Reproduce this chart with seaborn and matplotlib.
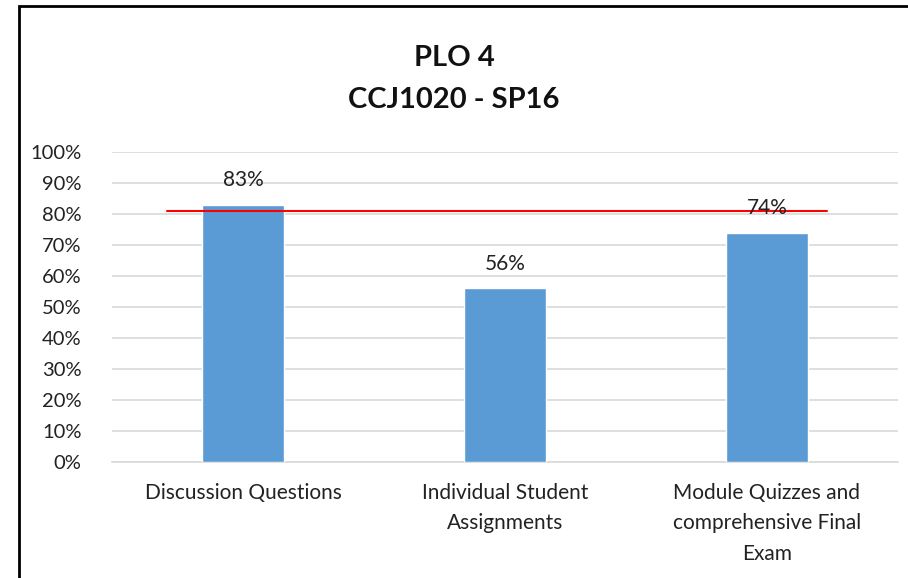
import numpy as np
import pandas as pd
import matplotlib
matplotlib.use("Agg")
import matplotlib.pyplot as plt
import seaborn as sns
from matplotlib.patches import Rectangle

# chart data
categories = ["Discussion Questions",
              "Individual Student\nAssignments",
              "Module Quizzes and\ncomprehensive Final\nExam"]
scores = [0.83, 0.56, 0.74]
target = 0.81
target_span = [-0.29, 2.23]
yticks = np.arange(0, 1.01, 0.1)

df = pd.DataFrame({"category": categories, "score": scores})

sns.set_theme(style="white")
plt.rcParams["font.family"] = ["Lato", "DejaVu Sans"]

fig = plt.figure(figsize=(9.08, 5.78), dpi=100)
ax = fig.add_axes([112 / 908, 1 - 462 / 578, 786 / 908, 310 / 578])

sns.barplot(data=df, x="category", y="score", color="#5B9BD5",
            width=0.31, saturation=1, ax=ax, zorder=3)

# target line
ax.plot(target_span, [target, target], color="#FF0000", lw=1.5, zorder=4)

for i, v in enumerate(scores):
    ax.text(i, v + 0.08, f"{v:.0%}", ha="center", va="center",
            fontsize=15, color="#222222", zorder=5)

ax.set_xlim(-0.5, 2.5)
ax.set_ylim(0, 1)
ax.set_yticks(yticks)
ax.set_yticklabels([f"{t:.0%}" for t in yticks], fontsize=14.5, color="#222222")
ax.tick_params(axis="x", labelsize=15, labelcolor="#222222", pad=9)
ax.tick_params(axis="y", pad=16)
for lbl in ax.get_xticklabels():
    lbl.set_linespacing(1.65)
ax.set_xlabel("")
ax.set_ylabel("")
ax.yaxis.grid(True, color="#D9D9D9", lw=1.2, zorder=0)
ax.set_axisbelow(True)
for s in ["top", "right", "left"]:
    ax.spines[s].set_visible(False)
ax.spines["bottom"].set_color("#D9D9D9")
ax.spines["bottom"].set_linewidth(1.2)

fig.text(0.5, 1 - 58 / 578, "PLO 4", ha="center", va="center",
         fontsize=21, fontweight="bold", color="#111111")
fig.text(0.5, 1 - 100 / 578, "CCJ1020 - SP16", ha="center", va="center",
         fontsize=21, fontweight="bold", color="#111111")

# outer border of the chart
fig.patches.append(Rectangle((19 / 908, -0.1), 1.2, 1 - 6 / 578 + 0.1,
                             transform=fig.transFigure, fill=False,
                             edgecolor="black", lw=2))

fig.savefig("out.png", dpi=100)
